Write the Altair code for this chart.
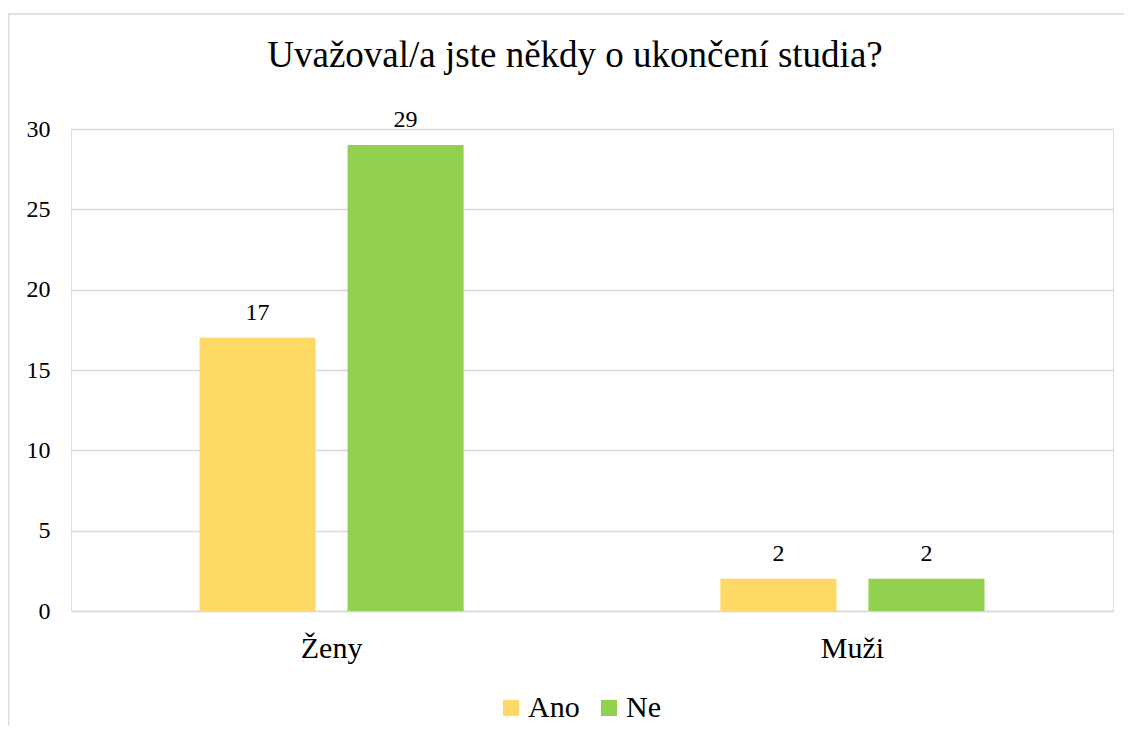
import altair as alt
import pandas as pd

categories = ["Ženy", "Muži"]
answers = ["Ano", "Ne"]
ano_values = [17, 2]
ne_values = [29, 2]
colors = ["#FFD966", "#92D050"]
title_text = "Uvažoval/a jste někdy o ukončení studia?"
y_ticks = [0, 5, 10, 15, 20, 25, 30]

rows = []
for i, c in enumerate(categories):
    rows.append({"skupina": c, "odpoved": "Ano", "pocet": ano_values[i]})
    rows.append({"skupina": c, "odpoved": "Ne", "pocet": ne_values[i]})
df = pd.DataFrame(rows)

FONT = "Times New Roman"
W, H = 1042, 482

x_enc = alt.X(
    "skupina:N",
    sort=categories,
    scale=alt.Scale(paddingInner=0.493, paddingOuter=0.2467),
    axis=alt.Axis(
        title=None, labelAngle=0, ticks=False, domain=True, domainColor="#D9D9D9",
        domainWidth=1.5, labelFont=FONT, labelFontSize=30, labelColor="black",
        labelBaseline="alphabetic", labelPadding=46,
    ),
)
xoff = alt.XOffset("odpoved:N", sort=answers, scale=alt.Scale(paddingInner=0.216, paddingOuter=0))
y_enc = alt.Y(
    "pocet:Q",
    scale=alt.Scale(domain=[0, 30], nice=False),
    axis=alt.Axis(
        title=None, values=y_ticks, ticks=False, domain=False, grid=True,
        gridColor="#D9D9D9", gridWidth=1.5, labelFont=FONT, labelFontSize=24,
        labelColor="black", labelPadding=21,
    ),
)

base = alt.Chart(df)

bars = base.mark_bar().encode(
    x=x_enc,
    xOffset=xoff,
    y=y_enc,
    color=alt.Color(
        "odpoved:N",
        sort=answers,
        scale=alt.Scale(domain=answers, range=colors),
        legend=alt.Legend(
            title=None, orient="none", legendX=425, legendY=564, direction="horizontal",
            symbolType="square", symbolSize=256, symbolStrokeWidth=0,
            labelFont=FONT, labelFontSize=30, labelColor="black",
            labelOffset=2, columnPadding=14, padding=0,
        ),
    ),
)

labels = base.mark_text(
    font=FONT, fontSize=24, color="black", baseline="alphabetic", dy=-18
).encode(
    x=alt.X("skupina:N", sort=categories),
    xOffset=alt.XOffset("odpoved:N", sort=answers),
    y=alt.Y("pocet:Q"),
    text="pocet:Q",
)

border = alt.Chart(pd.DataFrame({"k": [0]})).mark_rect(
    fillOpacity=0, stroke="#D9D9D9", strokeWidth=1.5
).encode(
    x=alt.value(-62.5), x2=alt.value(1300), y=alt.value(-115), y2=alt.value(900)
)

chart = alt.layer(border, bars, labels).properties(
    width=W,
    height=H,
    title=alt.Title(
        title_text, font=FONT, fontSize=37, fontWeight="normal", color="black",
        anchor="middle", frame="group", dx=-17, dy=66,
    ),
    autosize=alt.AutoSizeParams(type="none"),
    padding={"left": 63, "top": 121, "right": 11, "bottom": 115},
).configure_view(strokeWidth=0).configure(background="white", font=FONT)

chart.save("out.html", embed_options={"renderer": "svg", "actions": False})
